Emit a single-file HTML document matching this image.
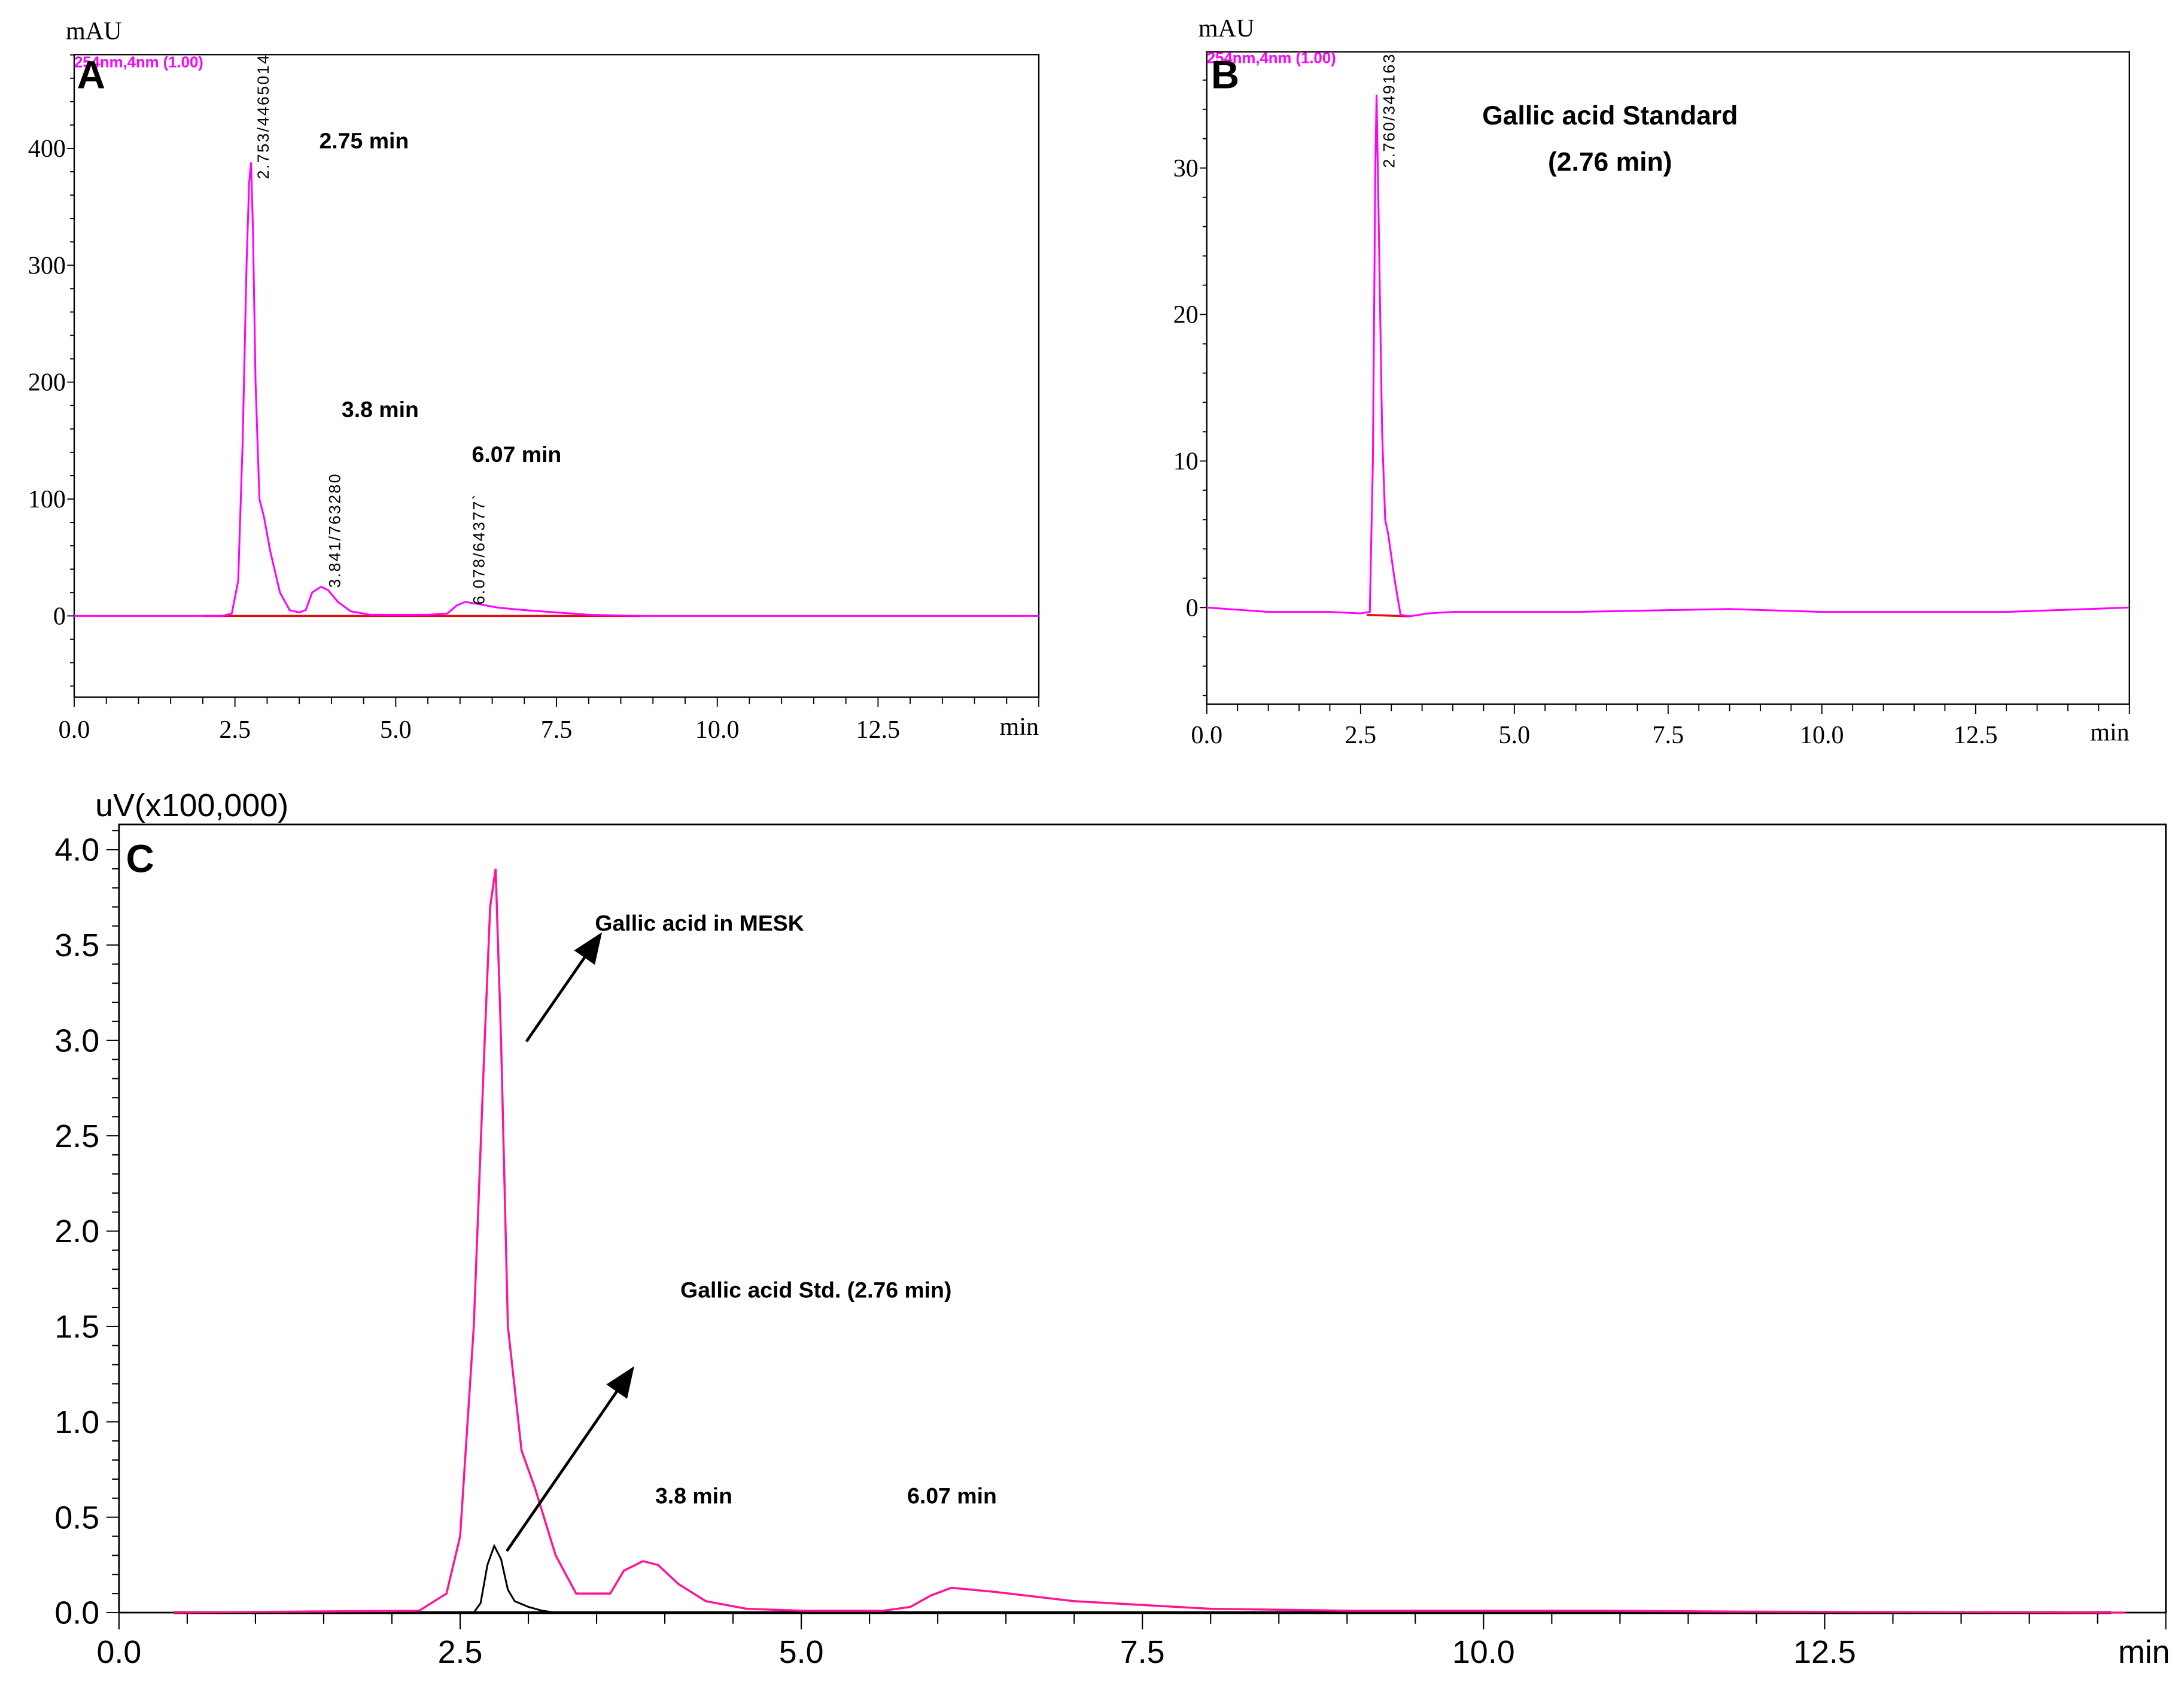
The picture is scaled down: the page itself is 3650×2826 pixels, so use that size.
<!DOCTYPE html>
<html><head><meta charset="utf-8"><style>
html,body{margin:0;padding:0;background:#fff}
svg{display:block}
.ser{font-family:"Liberation Serif",serif}
.san{font-family:"Liberation Sans",sans-serif}
.bold{font-family:"Liberation Sans",sans-serif;font-weight:bold}
</style></head><body>
<svg id="fig" width="3650" height="2826" viewBox="0 0 1560 1208" preserveAspectRatio="none" xmlns="http://www.w3.org/2000/svg">
<g id="gA"></g>
<g id="gB"></g>
<g id="gC"></g>
</svg>
<script>
// Panel A data
const aTimes=[0,2.3,2.45,2.55,2.62,2.68,2.72,2.75,2.78,2.82,2.88,2.95,3.05,3.2,3.35,3.5,3.6,3.7,3.84,3.95,4.1,4.3,4.6,5.0,5.5,5.8,5.95,6.08,6.3,6.6,7.0,7.5,8.0,8.8,15];
const aValues=[0,0,2,30,150,300,370,388,330,200,100,85,55,20,5,3,5,20,25,22,12,4,1,1,1,2,9,12,10,7,5,3,1,0,0];
const aYTicks=[0,100,200,300,400];
const aXTicks=[0,2.5,5,7.5,10,12.5];
// Panel B data
const bTimes=[0,1,2,2.5,2.65,2.7,2.74,2.76,2.8,2.85,2.9,2.95,3.05,3.15,3.3,3.6,4,6,8.5,10,13,15];
const bValues=[0,-0.3,-0.3,-0.4,-0.3,10,30,35,25,12,6,5,2,-0.5,-0.6,-0.4,-0.3,-0.3,-0.1,-0.3,-0.3,0];
const bYTicks=[0,10,20,30];
const bXTicks=[0,2.5,5,7.5,10,12.5];
// Panel C data
const cTimes=[0.4,2.2,2.4,2.5,2.6,2.68,2.72,2.76,2.8,2.85,2.95,3.05,3.2,3.35,3.6,3.7,3.84,3.95,4.1,4.3,4.6,5.0,5.6,5.8,5.95,6.1,6.4,7,7.5,8,9,10.9,11.9,14.7];
const cMeskValues=[0,0.01,0.1,0.4,1.5,3.0,3.7,3.9,3.0,1.5,0.85,0.65,0.3,0.1,0.1,0.22,0.27,0.25,0.15,0.06,0.02,0.01,0.01,0.03,0.09,0.13,0.11,0.06,0.04,0.02,0.01,0.01,0.005,0];
const cStdTimes=[0.4,2.6,2.65,2.7,2.75,2.8,2.85,2.9,3.0,3.1,3.2,14.6];
const cStdValues=[0,0,0.05,0.25,0.35,0.28,0.12,0.06,0.03,0.01,0,0];
const cYTicks=[0,0.5,1,1.5,2,2.5,3,3.5,4];
const cXTicks=[0,2.5,5,7.5,10,12.5];

const NS="http://www.w3.org/2000/svg";
function mk(parent,tag,attrs,text){const e=document.createElementNS(NS,tag);for(const k in attrs)e.setAttribute(k,attrs[k]);if(text!==undefined)e.textContent=text;parent.appendChild(e);return e;}
function scale(d0,d1,r0,r1){return v=>r0+(v-d0)/(d1-d0)*(r1-r0);}
function pathFrom(xs,ys,sx,sy){return xs.map((t,i)=>(i?'L':'M')+sx(t).toFixed(2)+','+sy(ys[i]).toFixed(2)).join('');}

// ---------- Panel A ----------
(function(){
const g=document.getElementById('gA');
const L=53,R=742,T=39,B=498;
const sx=scale(0,15,L,R), sy=scale(0,400,440,106);
let e=mk(g,'rect',{x:L,y:T,width:R-L,height:B-T,fill:'none',stroke:'#000','stroke-width':1});

for(let v=-60;v<=480;v+=20){const y=sy(v);if(y<T||y>B)continue;const major=aYTicks.includes(v);mk(g,'line',{x1:L-(major?5:3),x2:L,y1:y,y2:y,stroke:'#000','stroke-width':0.8});}
aYTicks.forEach(v=>{const t=mk(g,'text',{x:L-6,y:sy(v)+6,'text-anchor':'end','font-size':18,class:'ser'},String(v));});
for(let v=0;v<=15;v+=0.5){const x=sx(v);mk(g,'line',{x1:x,x2:x,y1:B,y2:B+(v%2.5===0?7:5),stroke:'#000','stroke-width':0.8});}
aXTicks.forEach(v=>{const t=mk(g,'text',{x:sx(v),y:527,'text-anchor':'middle','font-size':18,class:'ser'},v.toFixed(1));});
e=mk(g,'text',{x:742,y:525,'text-anchor':'end','font-size':18,class:'ser'},'min');
e=mk(g,'text',{x:47,y:28,'font-size':18,class:'ser'},'mAU');
mk(g,'line',{x1:sx(2),x2:sx(8.8),y1:sy(0),y2:sy(0),stroke:'#e01010','stroke-width':1.5});
e=mk(g,'path',{d:pathFrom(aTimes,aValues,sx,sy),fill:'none',stroke:'#ff00ff','stroke-width':1.3});

e=mk(g,'text',{x:53,y:48,'font-size':11,fill:'#ff00ff','font-weight':'bold',class:'san'},'254nm,4nm (1.00)');
e=mk(g,'text',{x:55,y:63,'font-size':28,class:'bold'},'A');
[[192,128,'2.753/4465014'],[243,420,'3.841/763280'],[346,432,'6.078/64377`']].forEach(p=>{const t=mk(g,'text',{x:p[0],y:p[1],'font-size':11.5,'letter-spacing':1,class:'san',transform:`rotate(-90 ${p[0]} ${p[1]})`},p[2]);});
[[228,106,'2.75 min'],[244,298,'3.8 min'],[337,330,'6.07 min']].forEach(p=>{const t=mk(g,'text',{x:p[0],y:p[1],'font-size':16,class:'bold'},p[2]);});
})();

// ---------- Panel B ----------
(function(){
const g=document.getElementById('gB');
const L=862,R=1521,T=37,B=503;
const sx=scale(0,15,L,R), sy=scale(0,30,434,120);
let e=mk(g,'rect',{x:L,y:T,width:R-L,height:B-T,fill:'none',stroke:'#000','stroke-width':1});

for(let v=-6;v<=38;v+=2){const y=sy(v);if(y<T||y>B)continue;const major=bYTicks.includes(v);mk(g,'line',{x1:L-(major?5:3),x2:L,y1:y,y2:y,stroke:'#000','stroke-width':0.8});}
bYTicks.forEach(v=>{const t=mk(g,'text',{x:L-6,y:sy(v)+6,'text-anchor':'end','font-size':18,class:'ser'},String(v));});
for(let v=0;v<=15;v+=0.5){const x=sx(v);mk(g,'line',{x1:x,x2:x,y1:B,y2:B+(v%2.5===0?7:5),stroke:'#000','stroke-width':0.8});}
bXTicks.forEach(v=>{const t=mk(g,'text',{x:sx(v),y:531,'text-anchor':'middle','font-size':18,class:'ser'},v.toFixed(1));});
e=mk(g,'text',{x:1521,y:529,'text-anchor':'end','font-size':18,class:'ser'},'min');
e=mk(g,'text',{x:856,y:26,'font-size':18,class:'ser'},'mAU');
mk(g,'line',{x1:sx(2.6),x2:sx(3.3),y1:sy(-0.5),y2:sy(-0.6),stroke:'#e01010','stroke-width':1.5});
e=mk(g,'path',{d:pathFrom(bTimes,bValues,sx,sy),fill:'none',stroke:'#ff00ff','stroke-width':1.3});

e=mk(g,'text',{x:862,y:45,'font-size':11,fill:'#ff00ff','font-weight':'bold',class:'san'},'254nm,4nm (1.00)');
e=mk(g,'text',{x:865,y:63,'font-size':28,class:'bold'},'B');
e=mk(g,'text',{x:996,y:120,'font-size':11.5,'letter-spacing':1,class:'san',transform:'rotate(-90 996 120)'},'2.760/349163');
e=mk(g,'text',{x:1150,y:89,'text-anchor':'middle','font-size':19,class:'bold'},'Gallic acid Standard');
e=mk(g,'text',{x:1150,y:122,'text-anchor':'middle','font-size':19,class:'bold'},'(2.76 min)');
})();

// ---------- Panel C ----------
(function(){
const g=document.getElementById('gC');
const L=85,R=1547,T=589,B=1152;
const sx=scale(0,15,L,R), sy=scale(0,4,1152,607);
let e=mk(g,'rect',{x:L,y:T,width:R-L,height:B-T,fill:'none',stroke:'#000','stroke-width':1.2});

for(let i=0;i<=41;i++){const v=i/10;const y=sy(v);const major=i%5===0;mk(g,'line',{x1:L-(major?9:5),x2:L,y1:y,y2:y,stroke:'#000','stroke-width':0.9});}
cYTicks.forEach(v=>{const t=mk(g,'text',{x:71,y:sy(v)+8,'text-anchor':'end','font-size':23,class:'san'},v.toFixed(1));});
for(let i=0;i<=30;i++){const v=i/2;const x=sx(v);mk(g,'line',{x1:x,x2:x,y1:B,y2:B+(i%5===0?12:8),stroke:'#000','stroke-width':0.9});}
cXTicks.forEach(v=>{const t=mk(g,'text',{x:sx(v),y:1188,'text-anchor':'middle','font-size':23,class:'san'},v.toFixed(1));});
e=mk(g,'text',{x:1550,y:1188,'text-anchor':'end','font-size':23,class:'san'},'min');
e=mk(g,'text',{x:68,y:583,'font-size':23,class:'san'},'uV(x100,000)');
mk(g,'line',{x1:sx(0.4),x2:sx(14.6),y1:B,y2:B,stroke:'#000','stroke-width':2});
e=mk(g,'path',{d:pathFrom(cStdTimes,cStdValues,sx,sy),fill:'none',stroke:'#000','stroke-width':1.3});

e=mk(g,'path',{d:pathFrom(cTimes,cMeskValues,sx,sy),fill:'none',stroke:'#ff1493','stroke-width':1.5});

e=mk(g,'text',{x:90,y:623,'font-size':28,class:'bold'},'C');
[[425,665,'Gallic acid in MESK'],[486,927,'Gallic acid Std. (2.76 min)'],[468,1074,'3.8 min'],[648,1074,'6.07 min']].forEach(p=>{const t=mk(g,'text',{x:p[0],y:p[1],'font-size':16,class:'bold'},p[2]);});
function arrow(x1,y1,x2,y2,name){const a=Math.atan2(y2-y1,x2-x1);const hl=22,hw=9;const bx=x2-hl*Math.cos(a),by=y2-hl*Math.sin(a);
 const grp=mk(g,'g',{});
 mk(grp,'line',{x1,y1,x2:bx,y2:by,stroke:'#000','stroke-width':2});
 mk(grp,'polygon',{points:`${x2},${y2} ${bx+hw*Math.sin(a)},${by-hw*Math.cos(a)} ${bx-hw*Math.sin(a)},${by+hw*Math.cos(a)}`,fill:'#000'});}
arrow(376,744,430,666,'arrow-mesk');
arrow(362,1108,453,976,'arrow-standard');
})();
</script>
</body></html>
